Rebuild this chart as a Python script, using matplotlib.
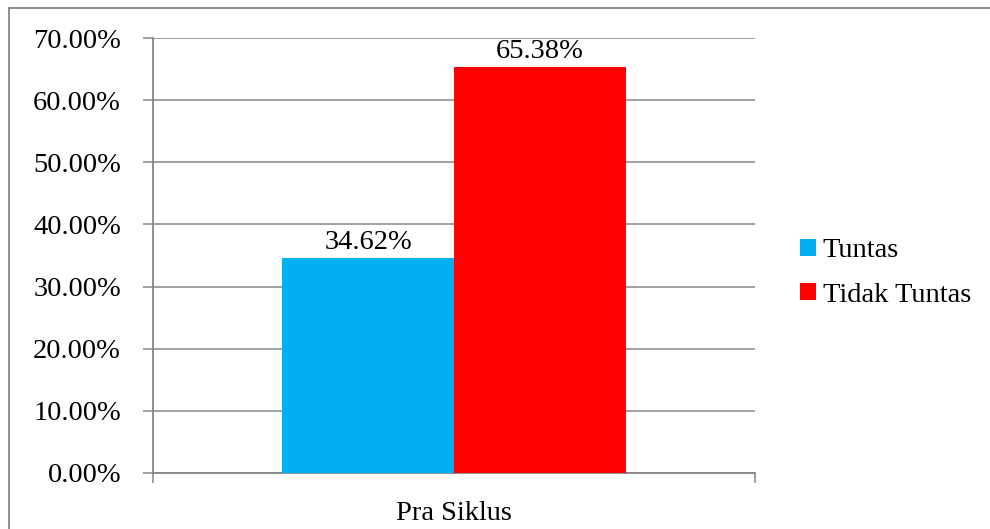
import matplotlib.pyplot as plt
from matplotlib.patches import Patch
from matplotlib.lines import Line2D

plt.rcParams['font.family'] = ['Liberation Serif', 'DejaVu Serif']

category = 'Pra Siklus'
series = ['Tuntas', 'Tidak Tuntas']
values = [34.62, 65.38]
colors = ['#00B0F0', '#FF0000']
yticks = [0, 10, 20, 30, 40, 50, 60, 70]

fig = plt.figure(figsize=(9.9, 5.29), dpi=100)
ax = fig.add_axes([153 / 990, 1 - 473 / 529, 602 / 990, 435 / 529])

grey = '#868686'
width = 0.2857
offsets = [-width / 2, width / 2]
for name, val, col, off in zip(series, values, colors, offsets):
    ax.bar(off, val, width=width, color=col, label=name, zorder=3)
    ax.text(off, val + 0.4, f'{val:.2f}%', ha='center', va='bottom',
            fontsize=20.5, zorder=4)

ax.set_xlim(-0.5, 0.5)
ax.set_ylim(0, 70)
ax.set_yticks(yticks)
ax.set_yticklabels([f'{v:.2f}%' for v in yticks], fontsize=20.5)
ax.yaxis.grid(True, color=grey, linewidth=1.1, zorder=0)

ax.set_xticks([-0.5, 0.5])
ax.set_xticklabels(['', ''])
ax.set_xticks([0], minor=True)
ax.set_xticklabels([category], minor=True, fontsize=20.5)
ax.tick_params(axis='x', which='minor', length=0, pad=20)
ax.tick_params(axis='x', which='major', length=7, width=1.1, color=grey)
ax.tick_params(axis='y', length=7, width=1.1, color=grey, pad=16)

for side in ['top', 'right']:
    ax.spines[side].set_visible(False)
for side in ['left', 'bottom']:
    ax.spines[side].set_color(grey)
    ax.spines[side].set_linewidth(1.3)

handles = [Patch(facecolor=c, edgecolor='none') for c in colors]
fig.legend(handles, series, loc='center left',
           bbox_to_anchor=(800 / 990, 1 - 273 / 529), frameon=False,
           fontsize=20.5, handlelength=0.55, handleheight=0.55,
           handletextpad=0.25, labelspacing=0.68, borderpad=0, borderaxespad=0)

# outer chart border (top and left edges visible)
fig.add_artist(Line2D([9 / 990, 1], [1 - 8 / 529, 1 - 8 / 529],
                      transform=fig.transFigure, color=grey, linewidth=1.3))
fig.add_artist(Line2D([9 / 990, 9 / 990], [0, 1 - 8 / 529],
                      transform=fig.transFigure, color=grey, linewidth=1.3))

fig.savefig('out.png', dpi=100)
